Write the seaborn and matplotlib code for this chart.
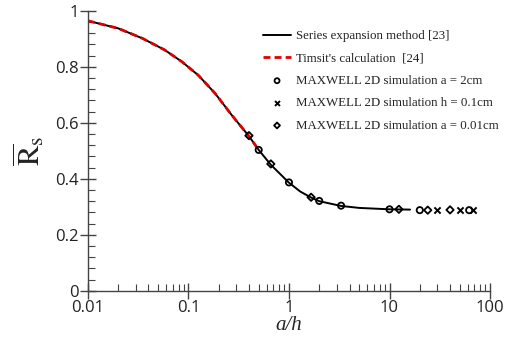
import numpy as np
import pandas as pd
import matplotlib
matplotlib.use('Agg')
import matplotlib.pyplot as plt
import seaborn as sns
from matplotlib.ticker import MultipleLocator, LogLocator, FixedLocator, FuncFormatter

# series expansion curve
curve_x = [0.01, 0.02, 0.035, 0.058, 0.086, 0.125, 0.184, 0.27, 0.40, 0.50,
           0.66, 1.0, 1.3, 1.66, 2.0, 3.3, 5.0, 10.0, 16.0]
curve_y = [0.964, 0.937, 0.901, 0.860, 0.818, 0.770, 0.705, 0.627, 0.552, 0.503,
           0.450, 0.386, 0.354, 0.333, 0.320, 0.303, 0.296, 0.291, 0.290]

# Timsit's calculation (only the small a/h part)
timsit_x = [0.01, 0.02, 0.035, 0.058, 0.086, 0.125, 0.184, 0.27, 0.40, 0.50]
timsit_y = [0.964, 0.937, 0.901, 0.860, 0.818, 0.770, 0.705, 0.627, 0.552, 0.503]

# MAXWELL 2D points
a2_x = [0.5, 1.0, 2.0, 3.3, 10.0, 20.0, 62.0]
a2_y = [0.503, 0.387, 0.321, 0.304, 0.291, 0.288, 0.288]
h01_x = [30.0, 50.0, 68.0]
h01_y = [0.287, 0.287, 0.287]
a001_x = [0.40, 0.66, 1.66, 12.4, 24.0, 40.0]
a001_y = [0.554, 0.453, 0.334, 0.291, 0.288, 0.289]

x_ticks = [0.01, 0.1, 1, 10, 100]
x_ticklabels = ['0.01', '0.1', '1', '10', '100']

sns.set_style('ticks')
plt.rcParams['font.family'] = ['Open Sans', 'DejaVu Sans']
plt.rcParams['mathtext.fontset'] = 'stix'

fig, ax = plt.subplots(figsize=(5.11, 3.45), dpi=100)
fig.subplots_adjust(left=0.172, right=0.959, bottom=0.157, top=0.969)

sns.lineplot(x=curve_x, y=curve_y, ax=ax, color='black', linewidth=1.4,
             label='Series expansion method [23]', sort=False)
sns.lineplot(x=timsit_x, y=timsit_y, ax=ax, color='#e00000', linewidth=2,
             linestyle=(0, (2.5, 1.5)), label="Timsit's calculation  [24]", sort=False)
sns.scatterplot(x=a2_x, y=a2_y, ax=ax, marker='o', s=20, facecolor='none',
                edgecolor='black', linewidth=1.3, label='MAXWELL 2D simulation a = 2cm', zorder=5)
sns.scatterplot(x=h01_x, y=h01_y, ax=ax, marker='x', s=20, color='black',
                linewidth=1.4, label='MAXWELL 2D simulation h = 0.1cm', zorder=5)
sns.scatterplot(x=a001_x, y=a001_y, ax=ax, marker='D', s=14, facecolor='none',
                edgecolor='black', linewidth=1.3, label='MAXWELL 2D simulation a = 0.01cm', zorder=5)

ax.set_xscale('log')
ax.set_xlim(0.01, 100)
ax.set_ylim(0, 1)
ax.xaxis.set_major_locator(FixedLocator(x_ticks))
ax.set_xticklabels(x_ticklabels)
ax.xaxis.set_minor_locator(LogLocator(base=10, subs=np.arange(2, 10)))
ax.yaxis.set_major_locator(MultipleLocator(0.2))
ax.yaxis.set_minor_locator(MultipleLocator(0.04))
ax.yaxis.set_major_formatter(FuncFormatter(lambda v, p: f'{v:g}'))

ax.tick_params(which='major', direction='inout', length=11, width=1, color='#444444',
               labelsize=12, pad=1, labelcolor='#222222')
ax.tick_params(which='minor', direction='in', length=5, width=0.8, color='#444444')
sns.despine(ax=ax)
for s in ['left', 'bottom']:
    ax.spines[s].set_color('#444444')
    ax.spines[s].set_linewidth(1)

ax.set_xlabel('a/h', family='Liberation Serif', style='italic', fontsize=15, labelpad=0)
ax.set_ylabel(r'$\overline{\mathrm{R}}_{\mathrm{s}}$', fontsize=22, labelpad=6, color='#222222')

leg = ax.legend(loc='upper left', bbox_to_anchor=(0.435, 0.93), frameon=False,
                prop={'family': 'Liberation Serif', 'size': 9.3}, handlelength=2.2,
                handletextpad=0.35, labelspacing=0.8, borderpad=0, borderaxespad=0,
                markerscale=0.8)
for t in leg.get_texts():
    t.set_color('#222222')

fig.savefig('out.png', dpi=100)
